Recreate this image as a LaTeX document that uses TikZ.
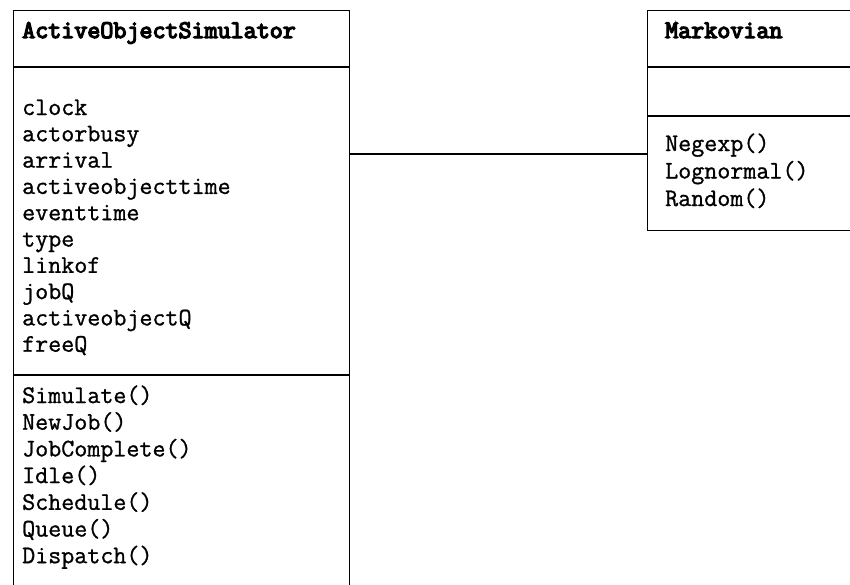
\documentclass[tikz,border=0pt]{standalone}
\usepackage{fontspec}
% slightly heavier typewriter face for members, heavier still for class names
\newfontfamily\umlmember{Latin Modern Mono}[FakeBold=1]
\newfontfamily\umlname{Latin Modern Mono}[FakeBold=5]
\begin{document}
\begin{tikzpicture}[x=1pt,y=-1pt,
  classbox/.style={draw=black, line width=1.3pt, rectangle, inner sep=0pt, anchor=north west},
  divider/.style={draw=black, line width=1.3pt},
  member/.style={anchor=base west, inner sep=0pt, font=\fontsize{25.3}{30}\selectfont\umlmember},
  classname/.style={member, font=\fontsize{25.3}{30}\selectfont\umlname\bfseries},
  link/.style={draw=black, line width=1.3pt}]
\useasboundingbox (0,0) rectangle (850,584);
\clip (0,0) rectangle (850,584);

% class ActiveObjectSimulator (its lower edge runs off the page)
\node[classbox, minimum width=336pt, minimum height=600pt] (sim) at (13,10) {};
\draw[divider] (13,67) -- (349,67);
\draw[divider] (13,375) -- (349,375);
\node[classname] (simname) at (22,38) {ActiveObjectSimulator};
\foreach \t [count=\i from 0] in {clock,actorbusy,arrival,activeobjecttime,eventtime,type,linkof,jobQ,activeobjectQ,freeQ}
  \node[member] (simattr\i) at (22,{115+26.3*\i}) {\t};
\foreach \t [count=\i from 0] in {Simulate(),NewJob(),JobComplete(),Idle(),Schedule(),Queue(),Dispatch()}
  \node[member] (simop\i) at (22,{403+26.7*\i}) {\t};

% class Markovian (its right edge runs off the page)
\node[classbox, minimum width=260pt, minimum height=220pt] (mk) at (647,10) {};
\draw[divider] (647,67) -- (907,67);
\draw[divider] (647,116) -- (907,116);
\node[classname] (mkname) at (665,38) {Markovian};
\foreach \t [count=\i from 0] in {Negexp(),Lognormal(),Random()}
  \node[member] (mkop\i) at (665,{151+27.5*\i}) {\t};

% association
\coordinate (linky) at (0,154);
\draw[link] (sim.east |- linky) -- (mk.west |- linky);
\end{tikzpicture}
\end{document}
